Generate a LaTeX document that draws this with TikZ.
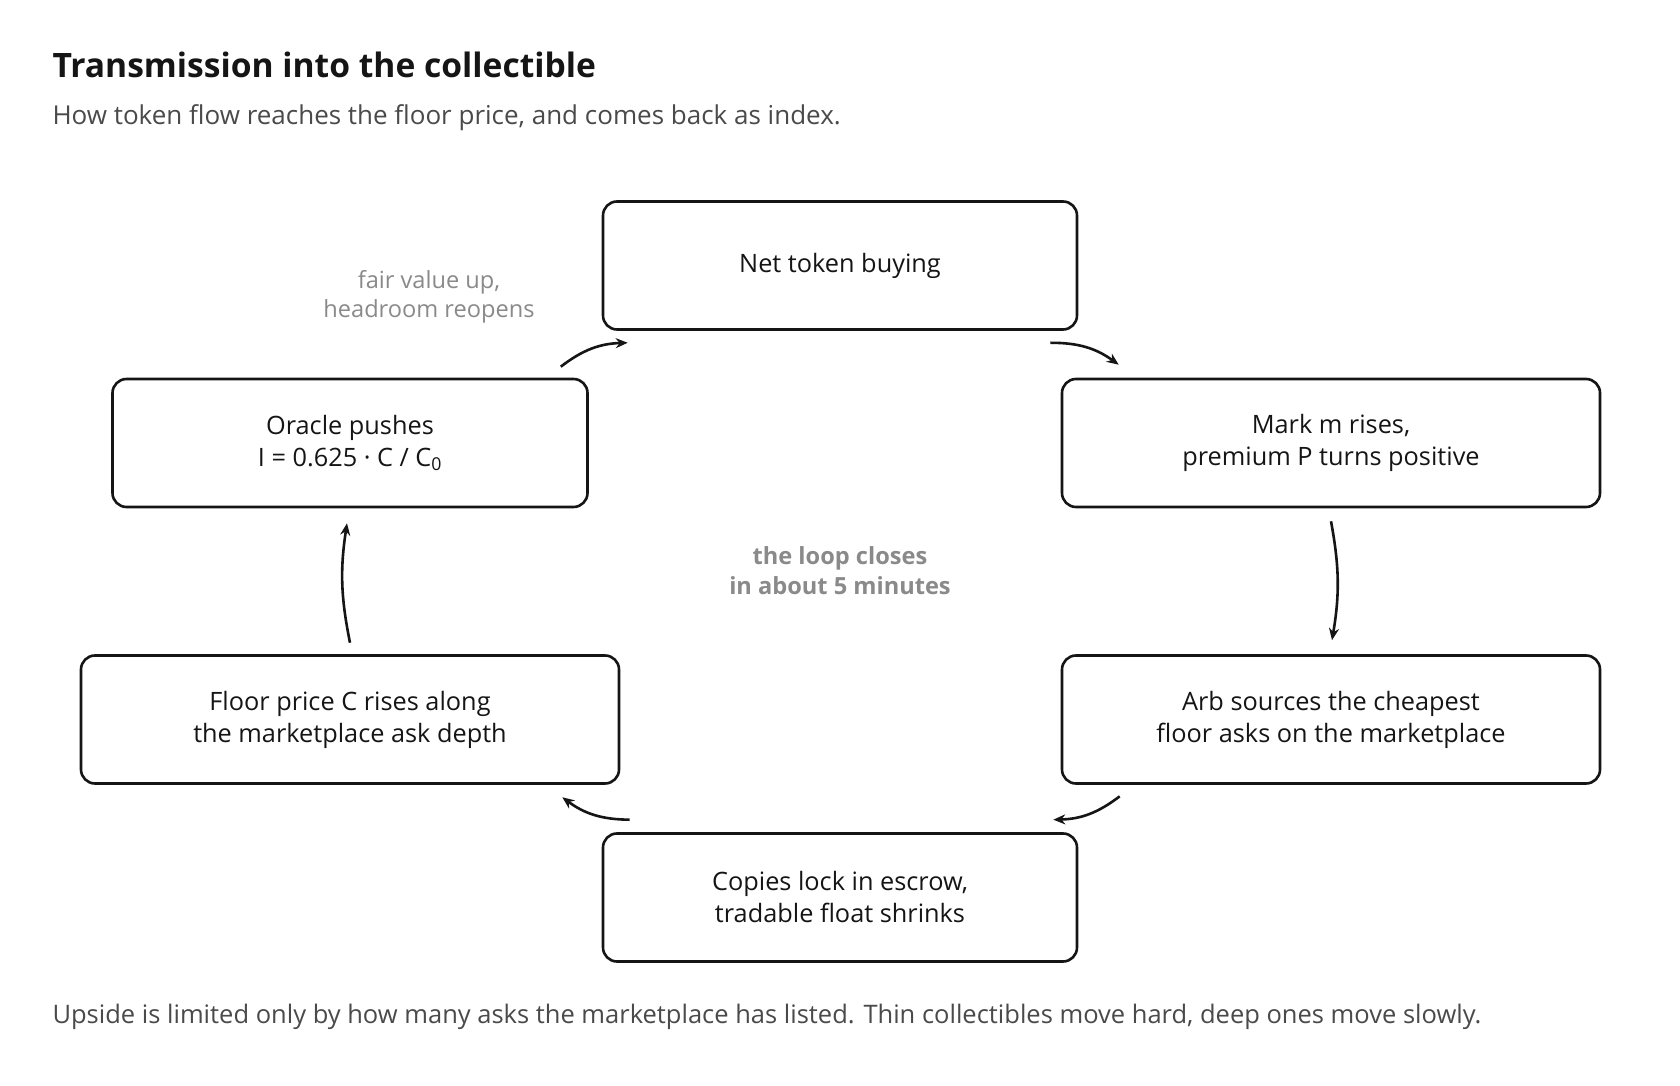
\documentclass[tikz,border=0pt]{standalone}
\usepackage{fontspec}
\setmainfont{Open Sans}
\usetikzlibrary{arrows.meta}
\definecolor{ink}{HTML}{151515}
\definecolor{sub}{HTML}{4A4A4A}
\definecolor{muted}{HTML}{8A8A8A}
\begin{document}
\begin{tikzpicture}[x=1pt,y=1pt,
  stepbox/.style={draw=ink,line width=2.6pt,rounded corners=14pt,minimum height=128pt,align=center,text=ink,font=\fontsize{25.3}{32}\selectfont},
  flow/.style={draw=ink,line width=2.6pt,-{Stealth[length=12pt,width=10pt]},bend left=18},
  note/.style={text=muted,align=center,font=\fontsize{23.6}{29}\selectfont}]
\useasboundingbox[fill=white] (0,0) rectangle (1680,1085);
\node[anchor=base west,text=ink,font=\fontsize{33.6}{38}\selectfont\bfseries] (title) at (49,1007) {Transmission into the collectible};
\node[anchor=base west,text=sub,font=\fontsize{26}{30}\selectfont] (subtitle) at (49,960) {How token flow reaches the floor price, and comes back as index.};
\node[stepbox,minimum width=474pt] (top) at (840,819.5) {Net token buying};
\node[stepbox,minimum width=538pt] (rt) at (1331,642) {Mark m rises,\\premium P turns positive};
\node[stepbox,minimum width=538pt] (rb) at (1331,365.5) {Arb sources the cheapest\\floor asks on the marketplace};
\node[stepbox,minimum width=474pt] (bot) at (840,187.5) {Copies lock in escrow,\\tradable float shrinks};
\node[stepbox,minimum width=538pt] (lb) at (350,365.5) {Floor price C rises along\\the marketplace ask depth};
\node[stepbox,minimum width=475pt] (lt) at (350,642) {Oracle pushes\\I = 0.625 · C / C\textsubscript{0}};
\node[note] (fair) at (429,788) {fair value up,\\headroom reopens};
\node[note,font=\fontsize{23.6}{30}\selectfont\bfseries] (loop) at (840,514) {the loop closes\\in about 5 minutes};
\node[anchor=base west,text=sub,font=\fontsize{25.5}{30}\selectfont] (foot) at (49,62) {Upside is limited only by how many asks the marketplace has listed. Thin collectibles move hard, deep ones move slowly.};
\draw[flow] ([xshift=-28pt,yshift=-12pt]top.south east) to ([xshift=58pt,yshift=13pt]rt.north west);
\draw[flow,bend left=10] ([yshift=-13pt]rt.south) to ([xshift=1pt,yshift=14pt]rb.north);
\draw[flow] ([xshift=59pt,yshift=-11.5pt]rb.south west) to ([xshift=-25pt,yshift=12.5pt]bot.north east);
\draw[flow] ([xshift=28pt,yshift=12.5pt]bot.north west) to ([xshift=-58pt,yshift=-12.5pt]lb.south east);
\draw[flow,bend left=10] ([yshift=11.5pt]lb.north) to ([xshift=-3pt,yshift=-15pt]lt.south);
\draw[flow] ([xshift=-28pt,yshift=11pt]lt.north east) to ([xshift=26pt,yshift=-12pt]top.south west);
\end{tikzpicture}
\end{document}
